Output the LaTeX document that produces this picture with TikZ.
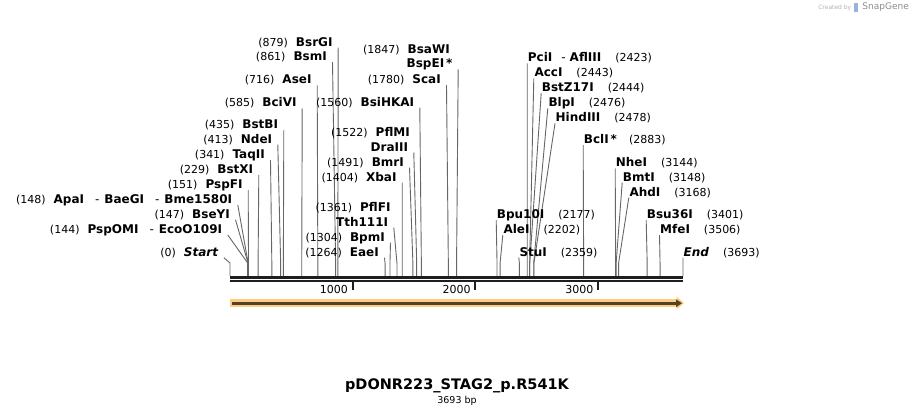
\documentclass[tikz,border=0pt]{standalone}
\usepackage{fontspec}
\setmainfont{DejaVu Sans}
\definecolor{featorange}{RGB}{253,205,130}
\definecolor{featdark}{RGB}{84,66,40}
\definecolor{mapblack}{RGB}{30,30,30}
\newcommand\posn[1]{{\mdseries\fontsize{11}{13}\selectfont#1}}
\newcommand\orsep{\hspace{11pt}{\mdseries-}\hspace{5pt}}
\tikzset{
  enzlabel/.style={inner sep=0pt, text height=9pt, text depth=0pt,
    font=\bfseries\fontsize{12}{14}\selectfont},
  leftlab/.style={enzlabel, anchor=east},
  rightlab/.style={enzlabel, anchor=west},
  cutline/.style={draw=black!60, line width=0.9pt},
}
\begin{document}
\begin{tikzpicture}[x=1pt, y=-1pt, line join=round]
\useasboundingbox (0,0) rectangle (914,415);
% sites left of their lines
\foreach \p/\yy/\xe/\txt [count=\i] in {
  879/41.7/332.7/{\posn{(879)}\hspace{8pt}BsrGI},
  861/56/327/{\posn{(861)}\hspace{8pt}BsmI},
  716/79.3/311.7/{\posn{(716)}\hspace{8pt}AseI},
  585/102.3/296.7/{\posn{(585)}\hspace{8pt}BciVI},
  435/124.3/278.3/{\posn{(435)}\hspace{8pt}BstBI},
  413/138.7/272.3/{\posn{(413)}\hspace{8pt}NdeI},
  341/154/265/{\posn{(341)}\hspace{8pt}TaqII},
  229/169/253.3/{\posn{(229)}\hspace{8pt}BstXI},
  151/184/242.7/{\posn{(151)}\hspace{8pt}PspFI},
  148/199/232.3/{\posn{(148)}\hspace{8pt}ApaI\orsep BaeGI\orsep Bme1580I},
  147/213.7/230/{\posn{(147)}\hspace{8pt}BseYI},
  144/229/222.3/{\posn{(144)}\hspace{8pt}PspOMI\orsep EcoO109I},
  0/251.7/218.3/{\posn{(0)}\hspace{8pt}\itshape Start},
  1847/63.3/452.7/{BspEI\,*},
  1780/79/441/{\posn{(1780)}\hspace{8pt}ScaI},
  1560/101.7/414.3/{\posn{(1560)}\hspace{8pt}BsiHKAI},
  1522/146.7/408.3/{DraIII},
  1491/161.7/404/{\posn{(1491)}\hspace{8pt}BmrI},
  1404/176.7/396.7/{\posn{(1404)}\hspace{8pt}XbaI},
  1361/221.7/388.3/{Tth111I},
  1304/236.7/385/{\posn{(1304)}\hspace{8pt}BpmI},
  1264/251.7/379/{\posn{(1264)}\hspace{8pt}EaeI}
}{
  \pgfmathsetmacro\sx{230+\p*0.1226645}
  \node[leftlab] (L\i) at (\xe,\yy) {\txt};
  \coordinate (SL\i) at (\sx,276);
  \draw[cutline] ([shift={(5.5,6)}]L\i.east) -- (\sx,263) -- (SL\i);
}
\node[leftlab] (BsaWI) at (450,49) {\posn{(1847)}\hspace{8pt}BsaWI};
\node[leftlab] (PflMI) at (410,131.7) {\posn{(1522)}\hspace{8pt}PflMI};
\node[leftlab] (PflFI) at (390.7,206.7) {\posn{(1361)}\hspace{8pt}PflFI};
% sites right of their lines
\foreach \p/\yy/\xe/\txt [count=\i] in {
  2423/57.3/527.7/{PciI\hspace{9pt}{\mdseries-}\hspace{4pt}AflIII\hspace{14pt}\posn{(2423)}},
  2443/72.3/534.3/{AccI\hspace{14pt}\posn{(2443)}},
  2444/87.3/541.7/{BstZ17I\hspace{14pt}\posn{(2444)}},
  2476/102.3/548.3/{BlpI\hspace{14pt}\posn{(2476)}},
  2478/117.3/555.5/{HindIII\hspace{14pt}\posn{(2478)}},
  2883/139/583.7/{BclI\,*\hspace{12pt}\posn{(2883)}},
  3144/162.3/615.7/{NheI\hspace{14pt}\posn{(3144)}},
  3148/176.7/622.7/{BmtI\hspace{14pt}\posn{(3148)}},
  3168/191.7/629.3/{AhdI\hspace{14pt}\posn{(3168)}},
  2177/214/496.7/{Bpu10I\hspace{14pt}\posn{(2177)}},
  2202/229/503.3/{AleI\hspace{14pt}\posn{(2202)}},
  2359/251.7/519.3/{StuI\hspace{14pt}\posn{(2359)}},
  3401/214/646.7/{Bsu36I\hspace{14pt}\posn{(3401)}},
  3506/229/660/{MfeI\hspace{14pt}\posn{(3506)}},
  3693/251.7/683.5/{{\itshape End}\hspace{14pt}\posn{(3693)}}
}{
  \pgfmathsetmacro\sx{230+\p*0.1226645}
  \node[rightlab] (R\i) at (\xe,\yy) {\txt};
  \coordinate (SR\i) at (\sx,276);
  \draw[cutline] ([shift={(-0.5,6)}]R\i.west) -- (\sx,263) -- (SR\i);
}
% backbone and ruler
\draw[mapblack, line width=3pt] (230,277.3) -- (683,277.3);
\draw[mapblack, line width=2pt] (230,281) -- (683,281);
\foreach \k in {1000,2000,3000}{
  \pgfmathsetmacro\tx{230+\k*0.1226645}
  \draw[mapblack, line width=2pt] (\tx,282) -- (\tx,290);
  \node[anchor=east, inner sep=0pt, font=\fontsize{11}{13}\selectfont] (tick\k) at (\tx-4.5,289) {\k};
}
% feature arrow
\fill[featorange] (230,299.3) rectangle (677,306.7);
\fill[featorange] (676.5,296.5) -- (684,303) -- (676.5,309.5) -- cycle;
\fill[featdark] (231.7,301.7) rectangle (677,304.8);
\fill[featdark] (676,299.3) -- (682,303.2) -- (676,307.2) -- cycle;
% title
\node[inner sep=0pt, font=\bfseries\fontsize{14.5}{16}\selectfont] (title) at (457,385.7) {pDONR223\_STAG2\_p.R541K};
\node[inner sep=0pt, font=\fontsize{9.5}{11}\selectfont] (size) at (457,400.7) {3693 bp};
% credit
\node[anchor=east, inner sep=0pt, text=black!45, font=\fontsize{9}{10}\selectfont] (snap) at (909,7.5) {SnapGene};
\fill[cyan!45!blue!40] (854,3) rectangle (858,12);
\node[anchor=east, inner sep=0pt, text=black!30, font=\fontsize{6}{8}\selectfont] (created) at (851.5,7.5) {Created by};
\end{tikzpicture}
\end{document}
